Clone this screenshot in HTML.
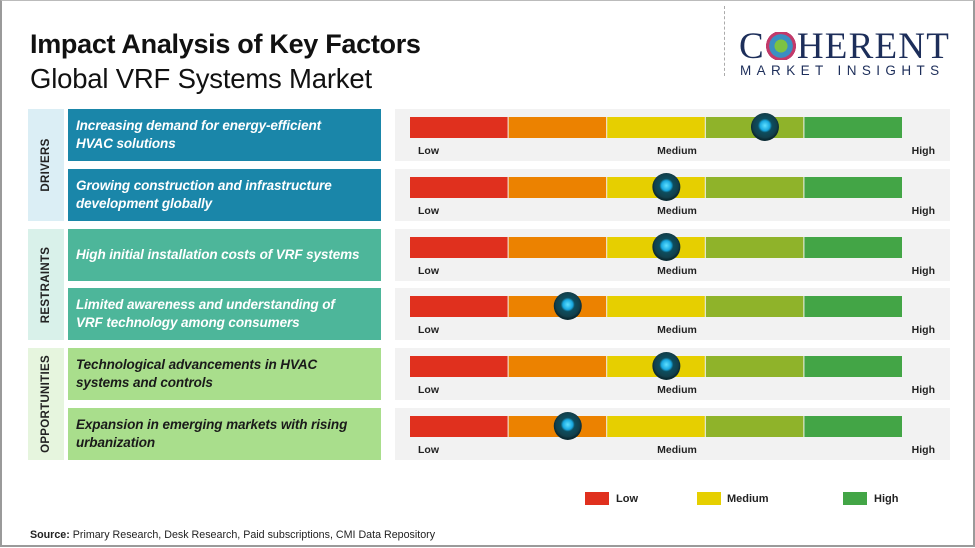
<!DOCTYPE html>
<html><head><meta charset="utf-8">
<style>
body{margin:0;width:975px;height:548px;overflow:hidden;background:#fff;font-family:"Liberation Sans",sans-serif;}
#wrap{position:absolute;left:0;top:0;width:971px;height:544px;border:2px solid #9a9a9a;border-top:1px solid #bbb;}
.t1{position:absolute;left:30px;top:29px;font-size:27px;font-weight:bold;color:#111;letter-spacing:-0.3px}
.t2{position:absolute;left:30px;top:63px;font-size:27.5px;color:#111;letter-spacing:-0.2px}
.cat{position:absolute;left:28px;width:36px;}
.cat span{position:absolute;left:50%;top:50%;transform:translate(-50%,-50%) rotate(-90deg);font-size:11.5px;font-weight:bold;color:#222;white-space:nowrap;letter-spacing:.3px}
.box{position:absolute;left:68px;width:313px;height:52px;box-sizing:border-box;padding:8px 6px 0 8px;font-size:13.5px;font-weight:bold;font-style:italic;line-height:18px;color:#fff;letter-spacing:-0.1px;white-space:pre}
</style></head><body>
<div id="wrap"></div>
<div class="t1">Impact Analysis of Key Factors</div>
<div class="t2">Global VRF Systems Market</div>
<div style="position:absolute;left:722px;top:6px;width:240px;height:72px;">
 <div style="position:absolute;left:2px;top:0;height:70px;border-left:1px dashed #aaa"></div>
 <div style="position:absolute;left:17px;top:22px;font-family:'Liberation Serif',serif;font-size:37px;color:#1d2e5a;letter-spacing:1.2px;line-height:37px">C<span style="display:inline-block;width:32px;height:28px;vertical-align:-2px;background:radial-gradient(circle,#7cc243 0 30%,#3a8fc2 31% 55%,#c23a6a 56% 70%,transparent 71%)"></span>HERENT</div>
 <div style="position:absolute;left:18px;top:57px;font-size:13.5px;color:#1d2e5a;letter-spacing:5.4px">MARKET INSIGHTS</div>
</div>
<div class="cat" style="top:109px;height:112px;background:#dbeef5"><span>DRIVERS</span></div>
<div class="cat" style="top:229px;height:111px;background:#d9f1ea"><span>RESTRAINTS</span></div>
<div class="cat" style="top:348px;height:112px;background:#e6f5de"><span>OPPORTUNITIES</span></div>
<div id="boxes"></div>
<svg id="bars" width="975" height="548" style="position:absolute;left:0;top:0">
<defs>
<radialGradient id="knob" cx="50%" cy="45%" r="50%"><stop offset="0" stop-color="#5fe0ff"/><stop offset="0.35" stop-color="#19a8e0"/><stop offset="0.5" stop-color="#0d4d5e"/><stop offset="0.85" stop-color="#123f4b"/><stop offset="1" stop-color="#0a2a33"/></radialGradient>
</defs>
</svg>
<div style="position:absolute;left:0;top:0;font-size:11px;font-weight:bold;color:#222">
 <div style="position:absolute;left:585px;top:492px;width:24px;height:13px;background:#e0301e"></div><div style="position:absolute;left:616px;top:493px">Low</div>
 <div style="position:absolute;left:697px;top:492px;width:24px;height:13px;background:#e6cf00"></div><div style="position:absolute;left:727px;top:493px">Medium</div>
 <div style="position:absolute;left:843px;top:492px;width:24px;height:13px;background:#43a546"></div><div style="position:absolute;left:874px;top:493px">High</div>
</div>
<div style="position:absolute;left:30px;top:529px;font-size:10.7px;color:#222"><b>Source:</b> Primary Research, Desk Research, Paid subscriptions, CMI Data Repository</div>
<script>
const factors=["Increasing demand for energy-efficient\nHVAC solutions","Growing construction and infrastructure\ndevelopment globally","High initial installation costs of VRF systems","Limited awareness and understanding of\nVRF technology among consumers","Technological advancements in HVAC\nsystems and controls","Expansion in emerging markets with rising\nurbanization"];
const groups=["driver","driver","restraint","restraint","opportunity","opportunity"];
const impact=[3.6,2.6,2.6,1.6,2.6,1.6];
const scaleMax=5;
const rowTops=[109,169,229,288,348,408];
const segColors=["#e0301e","#ec8200","#e6cf00","#8fb32a","#43a546"];
const boxColor={driver:"#1a86a9",restraint:"#4db69a",opportunity:"#a9de8c"};
const textColor={driver:"#fff",restraint:"#fff",opportunity:"#1a1a1a"};
const bx0=410,bx1=903;
const xs=v=>bx0+(bx1-bx0)*v/scaleMax;
const NS="http://www.w3.org/2000/svg";
const svg=document.getElementById('bars');
const boxes=document.getElementById('boxes');
factors.forEach((f,i)=>{
 const y=rowTops[i];
 const d=document.createElement('div');
 d.className='box';
 
 
 d.style.top=y+'px';d.style.background=boxColor[groups[i]];d.style.color=textColor[groups[i]];
 if(f.indexOf('\n')<0){d.style.paddingTop='17px';}
 d.textContent=f;boxes.appendChild(d);
 const bg=document.createElementNS(NS,'rect');
 
 
 bg.setAttribute('x',395);bg.setAttribute('y',y);bg.setAttribute('width',555);bg.setAttribute('height',52);bg.setAttribute('fill','#f2f2f2');svg.appendChild(bg);
 for(let s=0;s<5;s++){
  const r=document.createElementNS(NS,'rect');
  
  
  r.setAttribute('x',xs(s));r.setAttribute('y',y+8);r.setAttribute('width',xs(s+1)-xs(s)-1);r.setAttribute('height',21);r.setAttribute('fill',segColors[s]);svg.appendChild(r);
 }
 [["Low",418,"start"],["Medium",677,"middle"],["High",935,"end"]].forEach(([t,x,a])=>{
  const tx=document.createElementNS(NS,'text');
  
  
  tx.setAttribute('x',x);tx.setAttribute('y',y+45);tx.setAttribute('text-anchor',a);tx.setAttribute('font-size','10.5');tx.setAttribute('font-weight','bold');tx.setAttribute('fill','#222');tx.textContent=t;svg.appendChild(tx);
 });
 const c=document.createElementNS(NS,'circle');
 
 
 c.setAttribute('cx',xs(impact[i]));c.setAttribute('cy',y+18);c.setAttribute('r',14);c.setAttribute('fill','url(#knob)');svg.appendChild(c);
});
</script>
</body></html>
